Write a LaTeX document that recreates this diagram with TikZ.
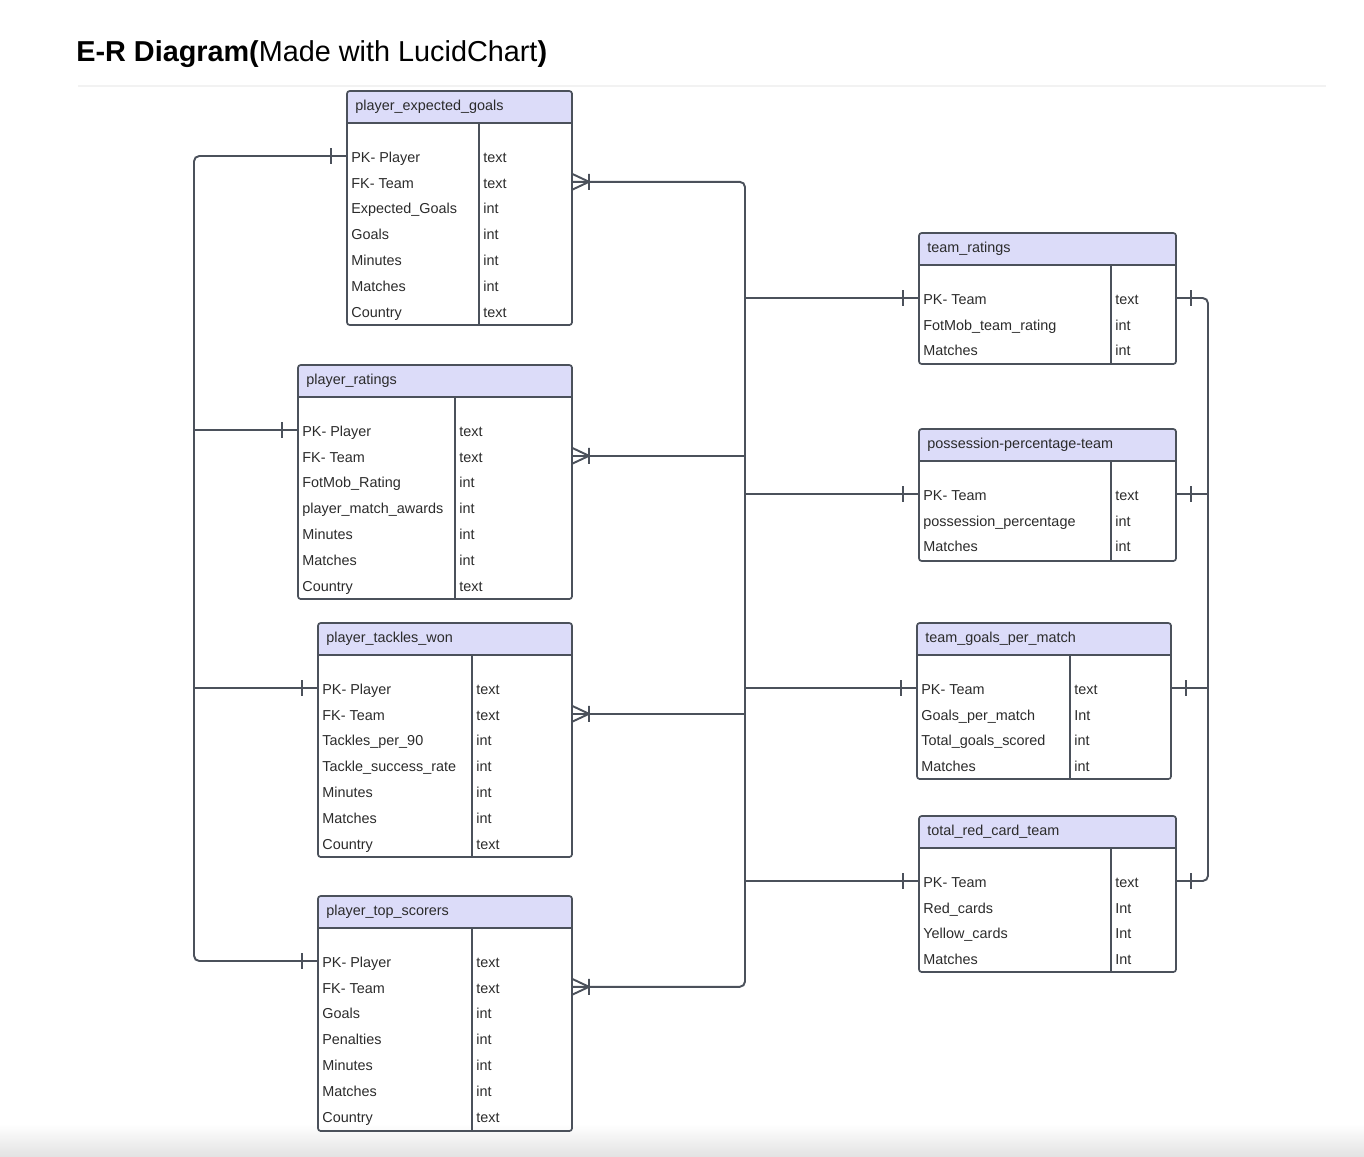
\documentclass[tikz,border=0pt]{standalone}
\usepackage{fontspec}
\setmainfont{Liberation Sans}
\definecolor{headfill}{HTML}{DCDCF9}
\definecolor{edgegray}{HTML}{4B515B}
\definecolor{textgray}{HTML}{2B2B2B}

\begin{document}
\begin{tikzpicture}[x=0.02cm, y=-0.02cm,
        tbl/.style={draw=edgegray, line width=0.95pt, rounded corners=1.5pt},
        field/.style={anchor=west, inner sep=0pt, text height=0.716em, text depth=0pt,
                font=\fontsize{8.2}{10}\selectfont, text=textgray},
        rel/.style={draw=edgegray, line width=1.1pt, rounded corners=3pt}]
        \useasboundingbox (0,0) rectangle (1364,1156);
        \shade[top color=white, bottom color=black!11] (0,1124) rectangle (1364,1156);
        \draw[black!5, line width=1pt] (78,86) -- (1326,86);
        \node (title) [anchor=base west, inner sep=0pt, font=\fontsize{16.4}{20}\selectfont] at (76,61)
                {\textbf{E-R Diagram(}Made with LucidChart\textbf{)}};

        % player_expected_goals
        \coordinate (peg-nw) at (347,91);
        \coordinate (peg-se) at (572,325);
        \fill[headfill] (peg-nw) rectangle (572,123);
        \draw[tbl] (peg-nw) rectangle (peg-se);
        \draw[tbl] (347,123) -- (572,123) (479,123) -- (479,325);
        \node (peg-title) [field] at (355,104) {player\_expected\_goals};
        \foreach \f/\t [count=\i from 0] in {PK- Player/text, FK- Team/text, Expected\_Goals/int,
                Goals/int, Minutes/int, Matches/int, Country/text} {
                \node (peg-f\i) [field] at (351,156+25.8*\i) {\f};
                \node (peg-t\i) [field] at (483,156+25.8*\i) {\t};
        }

        % player_ratings
        \coordinate (pr-nw) at (298,365);
        \coordinate (pr-se) at (572,599);
        \fill[headfill] (pr-nw) rectangle (572,397);
        \draw[tbl] (pr-nw) rectangle (pr-se);
        \draw[tbl] (298,397) -- (572,397) (455,397) -- (455,599);
        \node (pr-title) [field] at (306,378) {player\_ratings};
        \foreach \f/\t [count=\i from 0] in {PK- Player/text, FK- Team/text, FotMob\_Rating/int,
                player\_match\_awards/int, Minutes/int, Matches/int, Country/text} {
                \node (pr-f\i) [field] at (302,430+25.8*\i) {\f};
                \node (pr-t\i) [field] at (459,430+25.8*\i) {\t};
        }

        % player_tackles_won
        \coordinate (ptw-nw) at (318,623);
        \coordinate (ptw-se) at (572,857);
        \fill[headfill] (ptw-nw) rectangle (572,655);
        \draw[tbl] (ptw-nw) rectangle (ptw-se);
        \draw[tbl] (318,655) -- (572,655) (472,655) -- (472,857);
        \node (ptw-title) [field] at (326,636) {player\_tackles\_won};
        \foreach \f/\t [count=\i from 0] in {PK- Player/text, FK- Team/text, Tackles\_per\_90/int,
                Tackle\_success\_rate/int, Minutes/int, Matches/int, Country/text} {
                \node (ptw-f\i) [field] at (322,688+25.8*\i) {\f};
                \node (ptw-t\i) [field] at (476,688+25.8*\i) {\t};
        }

        % player_top_scorers
        \coordinate (pts-nw) at (318,896);
        \coordinate (pts-se) at (572,1131);
        \fill[headfill] (pts-nw) rectangle (572,928);
        \draw[tbl] (pts-nw) rectangle (pts-se);
        \draw[tbl] (318,928) -- (572,928) (472,928) -- (472,1131);
        \node (pts-title) [field] at (326,909) {player\_top\_scorers};
        \foreach \f/\t [count=\i from 0] in {PK- Player/text, FK- Team/text, Goals/int,
                Penalties/int, Minutes/int, Matches/int, Country/text} {
                \node (pts-f\i) [field] at (322,961+25.8*\i) {\f};
                \node (pts-t\i) [field] at (476,961+25.8*\i) {\t};
        }

        % team_ratings
        \coordinate (tr-nw) at (919,233);
        \coordinate (tr-se) at (1176,364);
        \fill[headfill] (tr-nw) rectangle (1176,265);
        \draw[tbl] (tr-nw) rectangle (tr-se);
        \draw[tbl] (919,265) -- (1176,265) (1111,265) -- (1111,364);
        \node (tr-title) [field] at (927,246) {team\_ratings};
        \foreach \f/\t [count=\i from 0] in {PK- Team/text, FotMob\_team\_rating/int, Matches/int} {
                \node (tr-f\i) [field] at (923,298+25.8*\i) {\f};
                \node (tr-t\i) [field] at (1115,298+25.8*\i) {\t};
        }

        % possession-percentage-team
        \coordinate (ppt-nw) at (919,429);
        \coordinate (ppt-se) at (1176,561);
        \fill[headfill] (ppt-nw) rectangle (1176,461);
        \draw[tbl] (ppt-nw) rectangle (ppt-se);
        \draw[tbl] (919,461) -- (1176,461) (1111,461) -- (1111,561);
        \node (ppt-title) [field] at (927,442) {possession-percentage-team};
        \foreach \f/\t [count=\i from 0] in {PK- Team/text, possession\_percentage/int, Matches/int} {
                \node (ppt-f\i) [field] at (923,494+25.8*\i) {\f};
                \node (ppt-t\i) [field] at (1115,494+25.8*\i) {\t};
        }

        % team_goals_per_match
        \coordinate (tgpm-nw) at (917,623);
        \coordinate (tgpm-se) at (1171,779);
        \fill[headfill] (tgpm-nw) rectangle (1171,655);
        \draw[tbl] (tgpm-nw) rectangle (tgpm-se);
        \draw[tbl] (917,655) -- (1171,655) (1070,655) -- (1070,779);
        \node (tgpm-title) [field] at (925,636) {team\_goals\_per\_match};
        \foreach \f/\t [count=\i from 0] in {PK- Team/text, Goals\_per\_match/Int,
                Total\_goals\_scored/int, Matches/int} {
                \node (tgpm-f\i) [field] at (921,688+25.8*\i) {\f};
                \node (tgpm-t\i) [field] at (1074,688+25.8*\i) {\t};
        }

        % total_red_card_team
        \coordinate (trct-nw) at (919,816);
        \coordinate (trct-se) at (1176,972);
        \fill[headfill] (trct-nw) rectangle (1176,848);
        \draw[tbl] (trct-nw) rectangle (trct-se);
        \draw[tbl] (919,848) -- (1176,848) (1111,848) -- (1111,972);
        \node (trct-title) [field] at (927,829) {total\_red\_card\_team};
        \foreach \f/\t [count=\i from 0] in {PK- Team/text, Red\_cards/Int, Yellow\_cards/Int, Matches/Int} {
                \node (trct-f\i) [field] at (923,881+25.8*\i) {\f};
                \node (trct-t\i) [field] at (1115,881+25.8*\i) {\t};
        }

        % relations
        \coordinate (lbus) at (194,0);
        \coordinate (cbus) at (745,0);
        \coordinate (rbus) at (1208,0);
        \draw[rel] (peg-nw |- peg-f0) -- (lbus |- peg-f0) -- (lbus |- pts-f0) -- (pts-nw |- pts-f0);
        \draw[rel] (lbus |- pr-f0) -- (pr-nw |- pr-f0);
        \draw[rel] (lbus |- ptw-f0) -- (ptw-nw |- ptw-f0);
        \draw[rel] (peg-se |- peg-f1) -- (cbus |- peg-f1) -- (cbus |- pts-f1) -- (pts-se |- pts-f1);
        \draw[rel] (pr-se |- pr-f1) -- (cbus |- pr-f1);
        \draw[rel] (ptw-se |- ptw-f1) -- (cbus |- ptw-f1);
        \foreach \t in {tr,ppt,tgpm,trct}
                \draw[rel] (cbus |- \t-f0) -- (\t-nw |- \t-f0);
        \draw[rel] (tr-se |- tr-f0) -- (rbus |- tr-f0) -- (rbus |- trct-f0) -- (trct-se |- trct-f0);
        \draw[rel] (ppt-se |- ppt-f0) -- (rbus |- ppt-f0);
        \draw[rel] (tgpm-se |- tgpm-f0) -- (rbus |- tgpm-f0);

        % ends
        \foreach \t in {peg,pr,ptw,pts}
                \draw[rel] (\t-nw |- \t-f0) ++(-16,-8) -- ++(0,16);
        \foreach \t in {tr,ppt,tgpm,trct} {
                \draw[rel] (\t-nw |- \t-f0) ++(-16,-8) -- ++(0,16);
                \draw[rel] (\t-se |- \t-f0) ++(15,-8) -- ++(0,16);
        }
        \foreach \t in {peg,pr,ptw,pts}
                \draw[rel, sharp corners] (\t-se |- \t-f1) ++(0,-8) -- ++(17,8) -- ++(-17,8)
                        ++(17,0) -- ++(0,-16);
\end{tikzpicture}
\end{document}
